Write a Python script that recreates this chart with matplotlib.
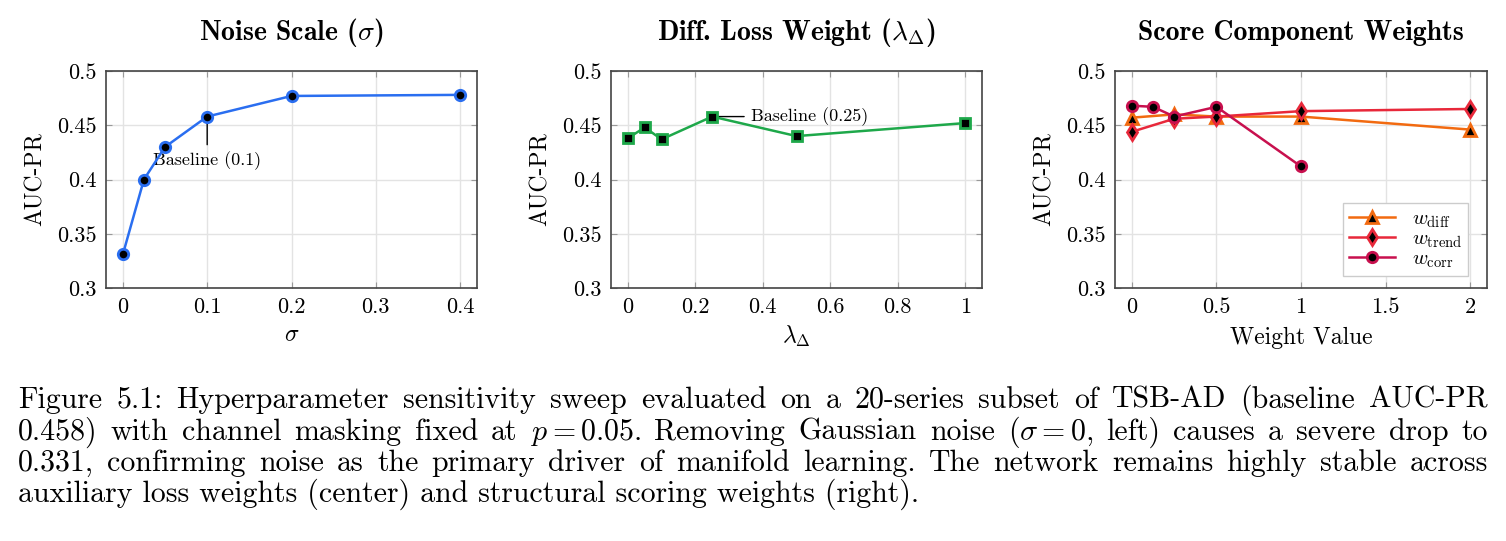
import matplotlib
matplotlib.use("Agg")
import matplotlib.pyplot as plt
from matplotlib.ticker import FuncFormatter

plt.rcParams['font.family'] = 'cmr10'
plt.rcParams['mathtext.fontset'] = 'cm'
plt.rcParams['axes.formatter.use_mathtext'] = True

# panel 1: noise scale
sigma = [0, 0.025, 0.05, 0.1, 0.2, 0.4]
sigma_auc = [0.331, 0.400, 0.430, 0.458, 0.477, 0.478]

# panel 2: diff loss weight
lam = [0, 0.05, 0.1, 0.25, 0.5, 1.0]
lam_auc = [0.438, 0.448, 0.437, 0.458, 0.440, 0.452]

# panel 3: score component weights
w_diff_x = [0, 0.25, 0.5, 1, 2]
w_diff_y = [0.457, 0.460, 0.458, 0.458, 0.446]
w_trend_x = [0, 0.25, 0.5, 1, 2]
w_trend_y = [0.444, 0.456, 0.458, 0.463, 0.465]
w_corr_x = [0, 0.125, 0.25, 0.5, 1]
w_corr_y = [0.468, 0.467, 0.458, 0.467, 0.412]

yticks = [0.3, 0.35, 0.4, 0.45, 0.5]
caption = [
    "Figure 5.1:  Hyperparameter sensitivity sweep evaluated on a 20-series subset of TSB-AD (baseline AUC-PR",
    r"0.458) with channel masking fixed at $p=0.05$. Removing Gaussian noise ($\sigma=0$, left) causes a severe drop to",
    "0.331, confirming noise as the primary driver of manifold learning.  The network remains highly stable across",
    "auxiliary loss weights (center) and structural scoring weights (right).",
]

W, H = 1506, 541
fig = plt.figure(figsize=(W / 100, H / 100), dpi=100)

def make_ax(left_px, width_px):
    ax = fig.add_axes([left_px / W, (H - 288) / H, width_px / W, 217 / H])
    ax.set_ylim(0.3, 0.5)
    ax.set_yticks(yticks)
    fmt = FuncFormatter(lambda v, p: '%g' % v)
    ax.xaxis.set_major_formatter(fmt)
    ax.yaxis.set_major_formatter(fmt)
    ax.grid(True, color='#e3e3e3', lw=1)
    ax.set_axisbelow(True)
    ax.tick_params(direction='in', length=4, color='#999999', top=True, right=True,
                   labelsize=16, pad=7)
    for s in ax.spines.values():
        s.set_color('#444444')
        s.set_linewidth(1.2)
    ax.set_ylabel('AUC-PR', fontsize=17, labelpad=7)
    return ax

mk = dict(markeredgewidth=2, markerfacecolor='black', lw=1.8)

# noise scale
ax1 = make_ax(106, 371)
ax1.plot(sigma, sigma_auc, color='#2a6ef0', marker='o', markersize=7.5,
         markeredgecolor='#2a6ef0', **mk)
ax1.set_xlim(-0.02, 0.42)
ax1.set_xticks([0, 0.1, 0.2, 0.3, 0.4])
ax1.set_xlabel(r'$\sigma$', fontsize=17, labelpad=5)
ax1.set_title(r'Noise Scale ($\sigma$)', fontfamily='cmb10', fontsize=20, pad=22)
ax1.annotate('Baseline (0.1)', xy=(sigma[3], sigma_auc[3]), xytext=(0, -32),
             textcoords='offset points', ha='center', va='center', fontsize=13,
             arrowprops=dict(arrowstyle='-', color='black', lw=1, shrinkA=3, shrinkB=0),
             zorder=1)

# diff loss weight
ax2 = make_ax(611, 371)
ax2.plot(lam, lam_auc, color='#1ea84a', marker='s', markersize=7.5,
         markeredgecolor='#1ea84a', **mk)
ax2.set_xlim(-0.05, 1.05)
ax2.set_xticks([0, 0.2, 0.4, 0.6, 0.8, 1.0])
ax2.set_xlabel(r'$\lambda_\Delta$', fontsize=17, labelpad=5)
ax2.set_title(r'Diff. Loss Weight ($\lambda_\Delta$)', fontfamily='cmb10', fontsize=20, pad=22)
ax2.annotate('Baseline (0.25)', xy=(lam[3], lam_auc[3]), xytext=(28, 0),
             textcoords='offset points', ha='left', va='center', fontsize=13,
             arrowprops=dict(arrowstyle='-', color='black', lw=1, shrinkA=3, shrinkB=0),
             zorder=1)

# score component weights
ax3 = make_ax(1115, 372)
ax3.plot(w_diff_x, w_diff_y, color='#f26a10', marker='^', markersize=8.5,
         markeredgecolor='#f26a10', label=r'$w_{\rm diff}$', **mk)
ax3.plot(w_trend_x, w_trend_y, color='#e8283a', marker='d', markersize=8.5,
         markeredgecolor='#e8283a', label=r'$w_{\rm trend}$', **mk)
ax3.plot(w_corr_x, w_corr_y, color='#c8104e', marker='o', markersize=7.5,
         markeredgecolor='#c8104e', label=r'$w_{\rm corr}$', **mk)
ax3.set_xlim(-0.1, 2.1)
ax3.set_xticks([0, 0.5, 1, 1.5, 2])
ax3.set_xlabel('Weight Value', fontsize=17, labelpad=7)
ax3.set_title('Score Component Weights', fontfamily='cmb10', fontsize=20, pad=22)
leg = ax3.legend(loc='lower right', bbox_to_anchor=(0.95, 0.055), borderaxespad=0,
                 fontsize=15, fancybox=False, edgecolor='#cccccc', framealpha=1,
                 handlelength=2.2, labelspacing=0.0, borderpad=0.3, handletextpad=0.8)
leg.get_frame().set_linewidth(1)

# caption, justified like the LaTeX original
x0, x1 = 18, 1488
base_y = [408, 440, 471, 502]
r = fig.canvas.get_renderer()
for i, line in enumerate(caption):
    y = (H - base_y[i]) / H
    if i == len(caption) - 1:
        fig.text(x0 / W, y, line, fontsize=21.5, va='baseline')
        continue
    words = line.split()
    texts = [fig.text(0, y, w, fontsize=21.5, va='baseline') for w in words]
    widths = [t.get_window_extent(r).width for t in texts]
    gap = (x1 - x0 - sum(widths)) / (len(words) - 1)
    x = x0
    for t, w in zip(texts, widths):
        t.set_x(x / W)
        x += w + gap

fig.savefig('out.png', dpi=100)
